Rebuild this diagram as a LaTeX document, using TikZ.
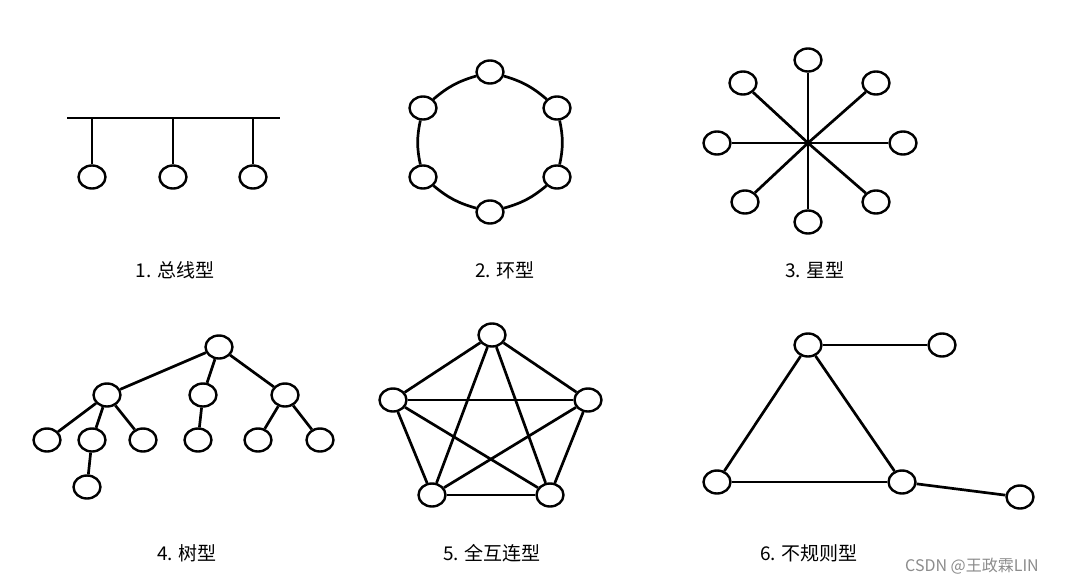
\documentclass[tikz,border=0pt]{standalone}
\usepackage{fontspec}
\newfontfamily\cjk{Noto Sans CJK SC}
\usepackage{tikz}
\usetikzlibrary{positioning, shapes.geometric}

\tikzset{
    host/.style={ellipse, draw, line width=2.4pt, fill=white, minimum width=27pt, minimum height=23pt, inner sep=0pt},
    caption/.style={font=\cjk\fontsize{19}{22}\selectfont},
    link/.style={line width=2.7pt}
}

\begin{document}
\begin{tikzpicture}[x=1pt, y=-1pt]
            \useasboundingbox[fill=white] (0,0) rectangle (1071,586);

            % 1. bus
            \coordinate (busL) at (67,118);
            \coordinate (busR) at (280,118);
            \draw[link] (busL) -- (busR);
            \foreach \i/\x in {1/92, 2/173, 3/253} {
                \coordinate (tap\i) at (\x,118);
                \node[host] (bus\i) at (\x,177) {};
                \draw[link] (tap\i) -- (bus\i);
            }
            \node[caption] (cap1) at (175,270) {1. 总线型};

            % 2. ring
            \node[host] (ringT) at (490,72) {};
            \node[host] (ringLT) at (423,108) {};
            \node[host] (ringLB) at (423,177) {};
            \node[host] (ringB) at (490,212) {};
            \node[host] (ringRB) at (557,177) {};
            \node[host] (ringRT) at (557,108) {};
            \path[link]
            (ringT) edge [bend right=12] (ringLT)
            (ringLT) edge [bend right=12] (ringLB)
            (ringLB) edge [bend right=12] (ringB)
            (ringB) edge [bend right=12] (ringRB)
            (ringRB) edge [bend right=12] (ringRT)
            (ringRT) edge [bend right=12] (ringT);
            \node[caption] (cap2) at (505,270) {2. 环型};

            % 3. star
            \coordinate (hub) at (808,143);
            \foreach \n/\x/\y in {T/808/60, TL/743/83, TR/876/83, L/717/143, R/903/143, BL/745/202, BR/876/202, B/808/222} {
                \node[host] (star\n) at (\x,\y) {};
                \draw[link] (hub) -- (star\n);
            }
            \node[caption] (cap3) at (815,270) {3. 星型};

            % 4. tree
            \node[host] (root) at (219,347) {};
            \node[host] (t1) at (107,395) {};
            \node[host] (t2) at (203,395) {};
            \node[host] (t3) at (285,395) {};
            \node[host] (t11) at (47,440) {};
            \node[host] (t12) at (92,440) {};
            \node[host] (t13) at (143,440) {};
            \node[host] (t21) at (198,440) {};
            \node[host] (t31) at (258,440) {};
            \node[host] (t32) at (320,440) {};
            \node[host] (t121) at (87,487) {};
            \path[link]
            (root) edge (t1) (root) edge (t2) (root) edge (t3)
            (t1) edge (t11) (t1) edge (t12) (t1) edge (t13)
            (t2) edge (t21)
            (t3) edge (t31) (t3) edge (t32)
            (t12) edge (t121);
            \node[caption] (cap4) at (187,553) {4. 树型};

            % 5. full mesh
            \node[host] (m1) at (492,335) {};
            \node[host] (m2) at (393,400) {};
            \node[host] (m3) at (432,495) {};
            \node[host] (m4) at (550,495) {};
            \node[host] (m5) at (588,400) {};
            \foreach \a/\b in {1/2, 1/3, 1/4, 1/5, 2/3, 2/4, 2/5, 3/4, 3/5, 4/5}
                \draw[link] (m\a) -- (m\b);
            \node[caption] (cap5) at (492,553) {5. 全互连型};

            % 6. irregular
            \node[host] (top) at (808,345) {};
            \node[host] (topR) at (942,345) {};
            \node[host] (botL) at (717,482) {};
            \node[host] (botR) at (902,482) {};
            \node[host] (far) at (1020,497) {};
            \path[link]
            (top) edge (topR)
            (top) edge (botL)
            (top) edge (botR)
            (botL) edge (botR)
            (botR) edge (far);
            \node[caption] (cap6) at (809,553) {6. 不规则型};

            \node[font=\cjk\fontsize{16}{18}\selectfont, text=black!45] (mark) at (972,566) {CSDN @王政霖LIN};
        \end{tikzpicture}
\end{document}
